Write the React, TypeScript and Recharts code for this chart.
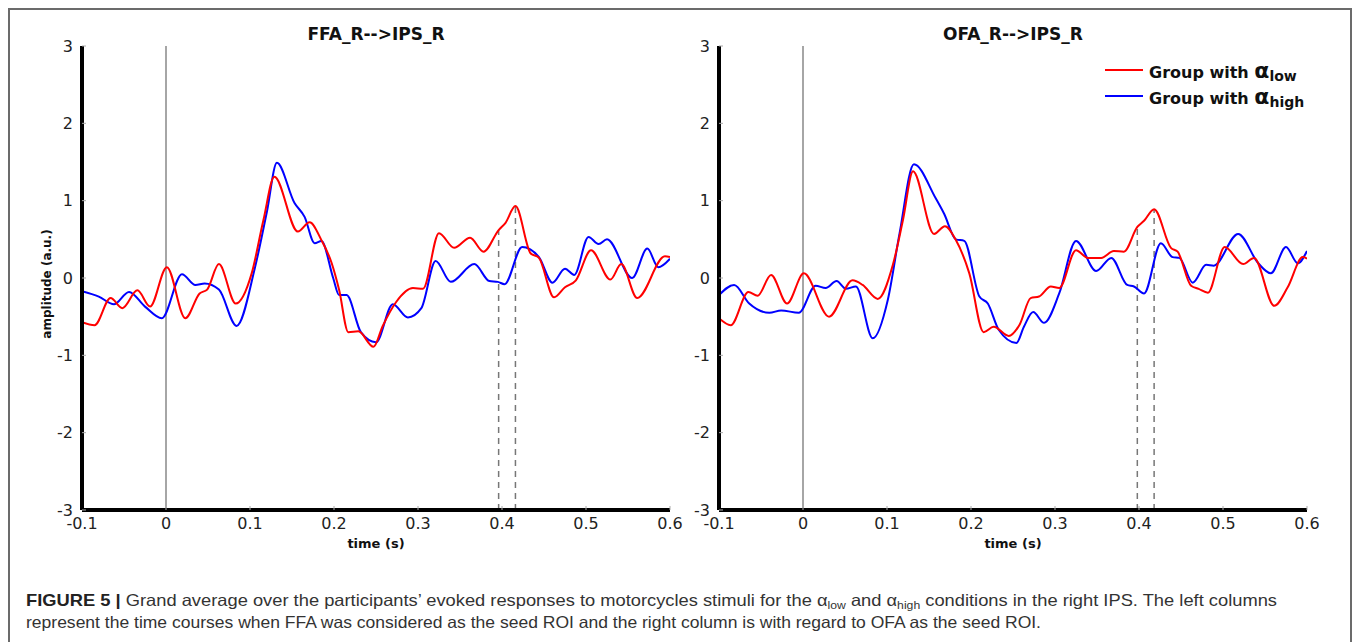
import React from "react";
import { LineChart, Line, XAxis, YAxis, ReferenceLine } from "recharts";

type Pt = [number, number];

const TIME_TICKS = [-0.1, 0, 0.1, 0.2, 0.3, 0.4, 0.5, 0.6];
const AMP_TICKS = [-3, -2, -1, 0, 1, 2, 3];

// FFA_R-->IPS_R, alpha low (red)
const ffaLow: Pt[] = [
  [-0.1, -0.57], [-0.085, -0.61], [-0.066, -0.26], [-0.052, -0.39], [-0.034, -0.16],
  [-0.019, -0.37], [0.001, 0.14], [0.023, -0.52], [0.04, -0.2], [0.049, -0.15],
  [0.063, 0.18], [0.083, -0.33], [0.102, 0.06], [0.116, 0.75], [0.129, 1.31],
  [0.157, 0.6], [0.171, 0.72], [0.185, 0.49], [0.197, 0.2], [0.206, -0.15],
  [0.217, -0.7], [0.229, -0.69], [0.247, -0.89], [0.258, -0.62], [0.274, -0.31],
  [0.294, -0.13], [0.306, -0.14], [0.325, 0.58], [0.343, 0.39], [0.362, 0.52],
  [0.378, 0.34], [0.396, 0.62], [0.404, 0.71], [0.416, 0.93], [0.434, 0.32],
  [0.444, 0.26], [0.462, -0.25], [0.475, -0.12], [0.488, -0.03], [0.506, 0.36],
  [0.529, -0.02], [0.542, 0.18], [0.561, -0.26], [0.594, 0.28], [0.6, 0.27],
];

// FFA_R-->IPS_R, alpha high (blue)
const ffaHigh: Pt[] = [
  [-0.1, -0.17], [-0.08, -0.24], [-0.062, -0.34], [-0.044, -0.18], [-0.025, -0.37],
  [-0.005, -0.52], [0.019, 0.05], [0.035, -0.09], [0.046, -0.07], [0.063, -0.15],
  [0.084, -0.62], [0.106, 0.14], [0.12, 0.85], [0.132, 1.49], [0.153, 0.97],
  [0.165, 0.79], [0.177, 0.45], [0.185, 0.48], [0.199, 0.0], [0.206, -0.22],
  [0.215, -0.22], [0.232, -0.7], [0.25, -0.83], [0.27, -0.34], [0.288, -0.51],
  [0.304, -0.39], [0.321, 0.22], [0.339, -0.05], [0.367, 0.18], [0.385, -0.04],
  [0.395, -0.05], [0.403, -0.08], [0.424, 0.4], [0.444, 0.27], [0.46, -0.06],
  [0.475, 0.12], [0.486, 0.04], [0.503, 0.53], [0.515, 0.44], [0.525, 0.5],
  [0.555, 0.0], [0.573, 0.38], [0.586, 0.14], [0.6, 0.25],
];

// OFA_R-->IPS_R, alpha low (red)
const ofaLow: Pt[] = [
  [-0.1, -0.52], [-0.086, -0.61], [-0.065, -0.18], [-0.054, -0.23], [-0.038, 0.04],
  [-0.019, -0.33], [0.001, 0.06], [0.031, -0.5], [0.059, -0.03], [0.071, -0.09],
  [0.089, -0.27], [0.107, 0.17], [0.119, 0.75], [0.131, 1.38], [0.156, 0.57],
  [0.169, 0.67], [0.182, 0.49], [0.198, 0.06], [0.215, -0.7], [0.227, -0.63],
  [0.245, -0.75], [0.258, -0.6], [0.271, -0.26], [0.281, -0.24], [0.295, -0.11],
  [0.305, -0.13], [0.325, 0.36], [0.339, 0.26], [0.355, 0.26], [0.37, 0.35],
  [0.382, 0.34], [0.398, 0.66], [0.406, 0.74], [0.418, 0.89], [0.438, 0.39],
  [0.446, 0.34], [0.462, -0.1], [0.471, -0.14], [0.482, -0.19], [0.502, 0.4],
  [0.524, 0.18], [0.537, 0.26], [0.561, -0.36], [0.577, -0.12], [0.595, 0.27],
  [0.6, 0.25],
];

// OFA_R-->IPS_R, alpha high (blue)
const ofaHigh: Pt[] = [
  [-0.1, -0.22], [-0.082, -0.09], [-0.064, -0.33], [-0.04, -0.45], [-0.026, -0.42],
  [-0.005, -0.45], [0.015, -0.1], [0.027, -0.13], [0.04, -0.04], [0.051, -0.14],
  [0.063, -0.11], [0.083, -0.78], [0.101, -0.28], [0.115, 0.58], [0.132, 1.47],
  [0.158, 1.03], [0.168, 0.83], [0.182, 0.5], [0.192, 0.48], [0.21, -0.24],
  [0.22, -0.33], [0.233, -0.67], [0.254, -0.84], [0.263, -0.63], [0.274, -0.44],
  [0.287, -0.58], [0.305, -0.2], [0.325, 0.48], [0.349, 0.09], [0.367, 0.26],
  [0.386, -0.09], [0.394, -0.11], [0.406, -0.2], [0.426, 0.45], [0.44, 0.27],
  [0.448, 0.26], [0.464, -0.06], [0.48, 0.17], [0.489, 0.16], [0.518, 0.57],
  [0.542, 0.19], [0.557, 0.06], [0.575, 0.4], [0.589, 0.19], [0.6, 0.35],
];

// dashed markers: time and height they reach
const ffaMarkers: Pt[] = [[0.396, 0.62], [0.416, 0.93]];
const ofaMarkers: Pt[] = [[0.398, 0.66], [0.418, 0.89]];

const RED = "#ff0000";
const BLUE = "#0000ff";
const FONT = "'DejaVu Sans', sans-serif";

const toRows = (pts: Pt[]) => pts.map(([t, v]) => ({ t, v }));
const fmtTime = (v: number) => String(Number(v.toFixed(1)));

function Panel({ title, low, high, markers, plotLeft, yLabel }: {
  title: string; low: Pt[]; high: Pt[]; markers: Pt[]; plotLeft: number; yLabel?: boolean;
}) {
  const yw = 60;
  const chartLeft = plotLeft - yw;
  const center = plotLeft + 294;
  return (
    <>
      <div style={{ position: "absolute", left: center - 150, width: 300, top: 24, textAlign: "center", fontWeight: "bold", fontSize: 17, color: "#111" }}>
        {title}
      </div>
      <div style={{ position: "absolute", left: center - 100, width: 200, top: 536, textAlign: "center", fontWeight: "bold", fontSize: 13, color: "#111" }}>
        time (s)
      </div>
      {yLabel && (
        <div style={{ position: "absolute", left: 47 - 80, top: 285 - 8, width: 160, textAlign: "center", fontWeight: "bold", fontSize: 12, color: "#111", transform: "rotate(-90deg)" }}>
          amplitude (a.u.)
        </div>
      )}
      <div style={{ position: "absolute", left: chartLeft, top: 16 }}>
        <LineChart width={668} height={534} margin={{ top: 30, right: 20, bottom: 10, left: 0 }}>
          <XAxis
            dataKey="t"
            type="number"
            domain={[-0.1, 0.6]}
            ticks={TIME_TICKS}
            tickFormatter={fmtTime}
            allowDataOverflow
            height={30}
            axisLine={{ stroke: "#000", strokeWidth: 4 }}
            tickLine={{ stroke: "#aaa" }}
            tickSize={-4}
            tickMargin={12}
            tick={{ fontSize: 16, fill: "#222", fontFamily: FONT }}
          />
          <YAxis
            type="number"
            domain={[-3, 3]}
            ticks={AMP_TICKS}
            allowDataOverflow
            width={yw}
            axisLine={{ stroke: "#000", strokeWidth: 4 }}
            tickLine={{ stroke: "#aaa" }}
            tickSize={-4}
            tickMargin={13}
            tick={{ fontSize: 16, fill: "#222", fontFamily: FONT }}
          />
          <ReferenceLine x={0} stroke="#888" strokeWidth={1.5} />
          {markers.map(([t, v]) => (
            <ReferenceLine
              key={t}
              segment={[{ x: t, y: -3 }, { x: t, y: v }]}
              stroke="#777"
              strokeWidth={1.5}
              strokeDasharray="6 5"
            />
          ))}
          <Line data={toRows(high)} dataKey="v" type="monotone" stroke={BLUE} strokeWidth={2} dot={false} isAnimationActive={false} />
          <Line data={toRows(low)} dataKey="v" type="monotone" stroke={RED} strokeWidth={2} dot={false} isAnimationActive={false} />
        </LineChart>
      </div>
    </>
  );
}

function LegendRow({ color, sub }: { color: string; sub: string }) {
  return (
    <div style={{ display: "flex", alignItems: "center", height: 26 }}>
      <svg width={42} height={6} style={{ marginRight: 2 }}>
        <line x1={0} y1={3} x2={38} y2={3} stroke={color} strokeWidth={2} />
      </svg>
      <span style={{ fontWeight: "bold", fontSize: 16, color: "#111", whiteSpace: "nowrap" }}>
        Group with <span style={{ fontSize: 22 }}>α</span>
        <span style={{ fontSize: 14, position: "relative", top: 3 }}>{sub}</span>
      </span>
    </div>
  );
}

export default function App() {
  return (
    <div style={{ position: "fixed", left: 0, top: 0, width: 1355, height: 642, background: "#fff", fontFamily: FONT, overflow: "hidden" }}>
      <div style={{ position: "absolute", left: 8, top: 8, width: 1340, height: 660, borderTop: "2px solid #6b6b6b", borderLeft: "2px solid #6b6b6b", borderRight: "2px solid #6b6b6b" }} />
      <Panel title="FFA_R-->IPS_R" low={ffaLow} high={ffaHigh} markers={ffaMarkers} plotLeft={82} yLabel />
      <Panel title="OFA_R-->IPS_R" low={ofaLow} high={ofaHigh} markers={ofaMarkers} plotLeft={719} />
      <div style={{ position: "absolute", left: 1105, top: 57 }}>
        <LegendRow color={RED} sub="low" />
        <LegendRow color={BLUE} sub="high" />
      </div>
      <svg style={{ position: "absolute", left: 0, top: 570 }} width={1355} height={70}>
        <text x={26} y={36} textLength={1251} lengthAdjust="spacingAndGlyphs" fontFamily="'Liberation Sans', sans-serif" fontSize={16.5} fill="#333">
          <tspan fontWeight="bold" fill="#222">FIGURE 5 | </tspan>
          Grand average over the participants’ evoked responses to motorcycles stimuli for the α
          <tspan fontSize={11} dy={3}>low</tspan>
          <tspan dy={-3}> and α</tspan>
          <tspan fontSize={11} dy={3}>high</tspan>
          <tspan dy={-3}> conditions in the right IPS. The left columns</tspan>
        </text>
        <text x={26} y={58} textLength={1015} lengthAdjust="spacingAndGlyphs" fontFamily="'Liberation Sans', sans-serif" fontSize={16.5} fill="#333">
          represent the time courses when FFA was considered as the seed ROI and the right column is with regard to OFA as the seed ROI.
        </text>
      </svg>
    </div>
  );
}
